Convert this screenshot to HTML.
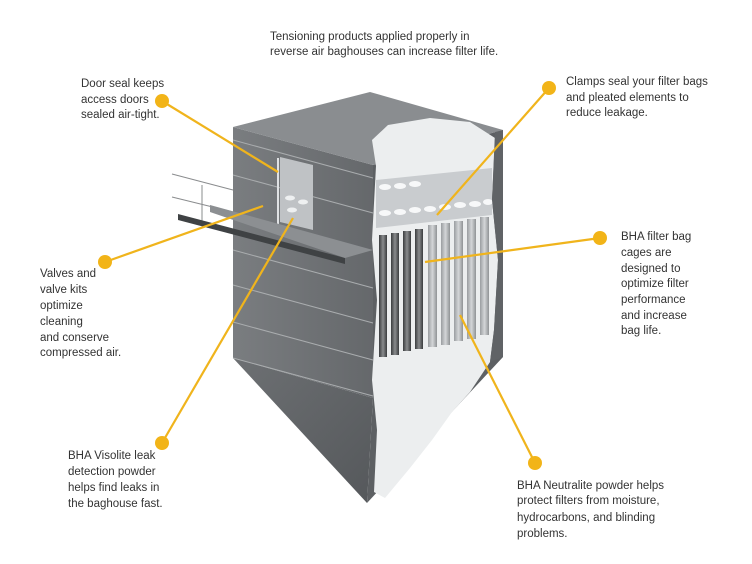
<!DOCTYPE html>
<html><head><meta charset="utf-8"><style>
html,body{margin:0;padding:0;background:#fff;}
svg{display:block}
text{font-family:"Liberation Sans",sans-serif;font-size:11.5px;fill:#333;}
</style></head><body>
<svg width="752" height="564" viewBox="0 0 752 564" xmlns="http://www.w3.org/2000/svg">
<defs>
<linearGradient id="lf" x1="0" y1="0" x2="1" y2="0"><stop offset="0" stop-color="#7a7d80"/><stop offset="1" stop-color="#65686b"/></linearGradient>
<linearGradient id="hp" x1="0" y1="0" x2="1" y2="1"><stop offset="0" stop-color="#6d7073"/><stop offset="1" stop-color="#55585b"/></linearGradient>
<linearGradient id="col" x1="0" y1="0" x2="1" y2="0"><stop offset="0" stop-color="#9a9da0"/><stop offset="0.5" stop-color="#d4d6d8"/><stop offset="1" stop-color="#8f9295"/></linearGradient>
<linearGradient id="cage" x1="0" y1="0" x2="1" y2="0"><stop offset="0" stop-color="#3a3c3e"/><stop offset="0.5" stop-color="#8a8c8e"/><stop offset="1" stop-color="#3a3c3e"/></linearGradient>
</defs>
<g stroke="#8a8c8e" stroke-width="1" fill="none">
<line x1="172" y1="174" x2="233" y2="190"/><line x1="172" y1="197" x2="233" y2="212"/>
<line x1="202" y1="185" x2="202" y2="222"/>
</g>
<polygon points="233,127 373,165 373,398 233,358" fill="url(#lf)"/>
<polygon points="233,358 373,398 367,503" fill="url(#hp)"/>
<polygon points="373,165 503,130 503,357 367,503 373,398" fill="#5d6063"/>
<polygon points="233,127 370,92 503,130 373,165" fill="#8a8d90"/>
<polygon points="376,166 372,140 388,125 430,118 470,122 495,138 492,200 498,260 494,330 490,362 470,392 452,412 432,440 410,468 385,498 374,492 377,430 372,380 377,300 372,240" fill="#eceeef"/>
<polygon points="376,180 492,168 492,215 376,228" fill="#c9cccf"/>
<g fill="#f7f8f9">
<ellipse cx="385" cy="187" rx="6" ry="3"/><ellipse cx="400" cy="186" rx="6" ry="3"/><ellipse cx="415" cy="184" rx="6" ry="3"/>
<ellipse cx="385" cy="213" rx="6" ry="3"/><ellipse cx="400" cy="212" rx="6" ry="3"/><ellipse cx="415" cy="210" rx="6" ry="3"/><ellipse cx="430" cy="209" rx="6" ry="3"/><ellipse cx="445" cy="207" rx="6" ry="3"/><ellipse cx="460" cy="205" rx="6" ry="3"/><ellipse cx="475" cy="204" rx="6" ry="3"/><ellipse cx="488" cy="202" rx="5" ry="3"/>
</g>
<g>
<rect x="428" y="225" width="9" height="122" fill="url(#col)"/><rect x="441" y="223" width="9" height="122" fill="url(#col)"/><rect x="454" y="221" width="9" height="120" fill="url(#col)"/><rect x="467" y="219" width="9" height="120" fill="url(#col)"/><rect x="480" y="217" width="9" height="118" fill="url(#col)"/>
<rect x="379" y="235" width="8" height="122" fill="url(#cage)"/><rect x="391" y="233" width="8" height="122" fill="url(#cage)"/><rect x="403" y="231" width="8" height="120" fill="url(#cage)"/><rect x="415" y="229" width="8" height="120" fill="url(#cage)"/>
</g>
<polygon points="495,132 503,130 503,357 490,362 494,330 498,260 492,200" fill="#606366"/>
<g stroke="#a9acae" stroke-width="1">
<line x1="233" y1="140" x2="373" y2="178"/><line x1="233" y1="175" x2="373" y2="213"/>
<line x1="233" y1="250" x2="373" y2="288"/><line x1="233" y1="285" x2="373" y2="323"/>
<line x1="233" y1="322" x2="373" y2="360"/><line x1="233" y1="358" x2="373" y2="396"/>
</g>
<polygon points="280,157 313,165 313,230 280,222" fill="#bfc2c5"/>
<line x1="278" y1="158" x2="278" y2="230" stroke="#e0e2e4" stroke-width="2"/>
<g fill="#eef0f1"><ellipse cx="290" cy="198" rx="5" ry="2.5"/><ellipse cx="303" cy="202" rx="5" ry="2.5"/><ellipse cx="292" cy="210" rx="5" ry="2.5"/></g>
<polygon points="178,214 345,258 345,264 178,220" fill="#3f4244"/>
<polygon points="210,205 373,250 345,258 210,212" fill="#8c8f92"/>
<g stroke="#f0b41c" stroke-width="2.2" fill="none">
<line x1="162" y1="101" x2="278" y2="172"/>
<line x1="105" y1="262" x2="263" y2="206"/>
<line x1="162" y1="443" x2="293" y2="218"/>
<line x1="549" y1="88" x2="437" y2="215"/>
<line x1="600" y1="238" x2="425" y2="262"/>
<line x1="460" y1="315" x2="535" y2="463"/>
</g>
<g fill="#f2b418">
<circle cx="162" cy="101" r="7"/><circle cx="105" cy="262" r="7"/><circle cx="162" cy="443" r="7"/>
<circle cx="549" cy="88" r="7"/><circle cx="600" cy="238" r="7"/><circle cx="535" cy="463" r="7"/>
</g>
<text x="270" y="40">Tensioning products applied properly in</text>
<text x="270" y="55">reverse air baghouses can increase filter life.</text>
<text x="81" y="87">Door seal keeps</text>
<text x="81" y="103">access doors</text>
<text x="81" y="118">sealed air-tight.</text>
<text x="40" y="277">Valves and</text><text x="40" y="293">valve kits</text><text x="40" y="309">optimize</text><text x="40" y="325">cleaning</text><text x="40" y="341">and conserve</text><text x="40" y="356">compressed air.</text>
<text x="68" y="459">BHA Visolite leak</text><text x="68" y="475">detection powder</text><text x="68" y="491">helps find leaks in</text><text x="68" y="507">the baghouse fast.</text>
<text x="566" y="85">Clamps seal your filter bags</text><text x="566" y="101">and pleated elements to</text><text x="566" y="116">reduce leakage.</text>
<text x="621" y="240">BHA filter bag</text><text x="621" y="256">cages  are</text><text x="621" y="272">designed to</text><text x="621" y="287">optimize filter</text><text x="621" y="303">performance</text><text x="621" y="319">and increase</text><text x="621" y="334">bag life.</text>
<text x="517" y="489">BHA Neutralite powder helps</text><text x="517" y="504">protect filters from moisture,</text><text x="517" y="521">hydrocarbons, and blinding</text><text x="517" y="537">problems.</text>
</svg>
</body></html>
